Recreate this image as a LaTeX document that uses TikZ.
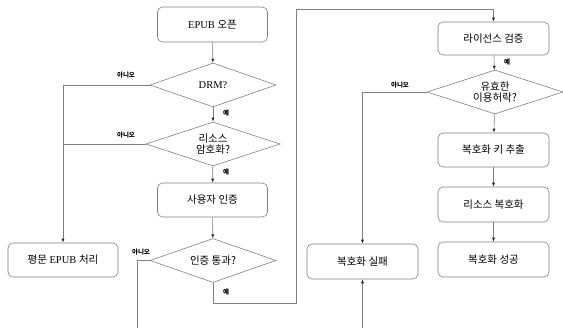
\documentclass[tikz,border=0pt]{standalone}
\usepackage{fontspec}
\setmainfont{Liberation Serif}
\newfontfamily\kr{Noto Sans CJK KR}
\usetikzlibrary{shapes.geometric,arrows.meta}
\begin{document}
\begin{tikzpicture}[x=1pt,y=-1pt,
  box/.style={draw=black!50, rounded corners=5pt, line width=0.6pt, minimum width=110pt, minimum height=35pt, font=\fontsize{10.5}{12}\selectfont, align=center, inner sep=1pt},
  dia/.style={draw=black!50, diamond, aspect=2.8, line width=0.6pt, inner sep=0pt, font=\fontsize{10.5}{12}\selectfont, align=center},
  conn/.style={draw=black!50, line width=0.6pt},
  arr/.style={conn, -{Latex[length=4pt,width=3pt,color=black!85]}},
  lab/.style={font=\kr\fontsize{6.5}{7}\selectfont\bfseries, inner sep=1pt}]
\useasboundingbox (0,0) rectangle (563,328);

\node[box] (open) at (212.5,24.5) {EPUB {\kr 오픈}};
\node[dia, minimum width=126pt, minimum height=44pt] (drm) at (213,85) {DRM?};
\node[dia, minimum width=134pt, minimum height=44pt] (enc) at (213,144) {\kr 리소스\\[-1pt]\kr 암호화?};
\node[box, minimum height=34pt] (user) at (212.5,200) {\kr 사용자 인증};
\node[dia, minimum width=126pt, minimum height=44pt] (auth) at (213,260.5) {\kr 인증 통과?};
\node[box, minimum height=34pt] (plain) at (63,260) {{\kr 평문} EPUB {\kr 처리}};
\node[box, minimum width=111pt, minimum height=33pt] (lic) at (493.5,38.5) {\kr 라이선스 검증};
\node[dia, minimum width=136pt, minimum height=44pt] (valid) at (495,92) {\kr 유효한\\[-1pt]\kr 이용허락?};
\node[box, minimum width=111pt, minimum height=34pt] (key) at (493.5,150) {\kr 복호화 키 추출};
\node[box, minimum width=111pt] (dec) at (493.5,204.5) {\kr 리소스 복호화};
\node[box, minimum width=111pt] (succ) at (493.5,259.5) {\kr 복호화 성공};
\node[box, minimum width=111pt] (fail) at (362.5,261.5) {\kr 복호화 실패};

\coordinate (lb) at (137,345);
\coordinate (c1) at (296,303);
\coordinate (c2) at (296,9);

\draw[arr] (open) -- (drm);
\draw[arr] (drm) -- (enc);
\draw[arr] (enc) -- (user);
\draw[arr] (user) -- (auth);
\draw[arr] (drm.west) -| (plain.north);
\draw[conn] (enc.west) -- (plain.north |- enc.west);
\draw[arr] (auth.west) -| (lb) -| (fail.south);
\draw[arr] (auth.south) |- (c1) -- (c2) -| (lic.north);
\draw[arr] (lic) -- (valid);
\draw[arr] (valid.west) -| (fail.north);
\draw[arr] (valid) -- (key);
\draw[arr] (key) -- (dec);
\draw[arr] (dec) -- (succ);

\node[lab] (l1) at (126,75) {아니오};
\node[lab] (l2) at (126,135) {아니오};
\node[lab] (l3) at (226,113) {예};
\node[lab] (l4) at (226,172) {예};
\node[lab] (l5) at (141,252) {아니오};
\node[lab] (l6) at (226,292) {예};
\node[lab] (l7) at (400,85) {아니오};
\node[lab] (l8) at (507,62) {예};
\end{tikzpicture}
\end{document}
